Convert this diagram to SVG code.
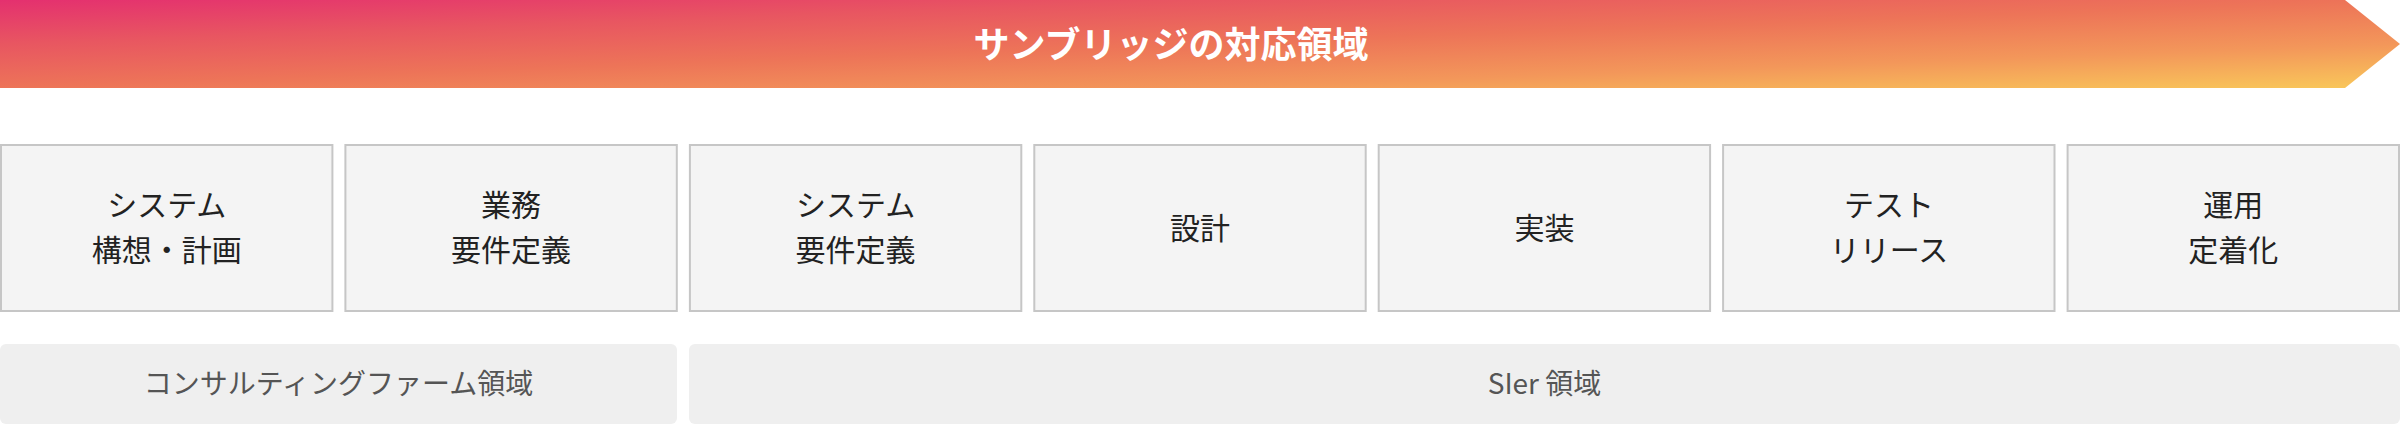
<svg xmlns="http://www.w3.org/2000/svg" width="2400" height="440" viewBox="0 0 2400 440">
<defs>
<linearGradient id="bannerGrad" x1="0" y1="0" x2="1" y2="1">
<stop offset="0" stop-color="#e4306f"/>
<stop offset="0.25" stop-color="#e85661"/>
<stop offset="0.5" stop-color="#ed7458"/>
<stop offset="0.75" stop-color="#f3975a"/>
<stop offset="1" stop-color="#f9c85a"/>
</linearGradient>
<style>
.step rect{fill:#f4f4f4;stroke:#c6c6c6;stroke-width:2}
.step text{font-family:"Noto Sans CJK JP","Noto Sans",sans-serif;font-size:30px;fill:#222;text-anchor:middle}
.area rect{fill:#efefef}
.area text{font-family:"Noto Sans CJK JP","Noto Sans",sans-serif;font-size:28px;fill:#555;text-anchor:middle}
.title{font-family:"Noto Sans CJK JP","Noto Sans",sans-serif;font-size:36px;font-weight:700;fill:#fff;text-anchor:middle}
</style>
</defs>
<g id="banner">
<polygon points="0,0 2345,0 2400,44 2345,88 0,88" fill="url(#bannerGrad)"/>
<text class="title" x="1171" y="58">サンブリッジの対応領域</text>
</g>
<g id="connectors"></g>
<g id="step1" class="step">
<rect x="1" y="145" width="331.4" height="166"/>
<text x="166.7" y="216">システム</text>
<text x="166.7" y="261">構想・計画</text>
</g>
<g id="step2" class="step">
<rect x="345.4" y="145" width="331.4" height="166"/>
<text x="511.1" y="216">業務</text>
<text x="511.1" y="261">要件定義</text>
</g>
<g id="step3" class="step">
<rect x="689.9" y="145" width="331.4" height="166"/>
<text x="855.6" y="216">システム</text>
<text x="855.6" y="261">要件定義</text>
</g>
<g id="step4" class="step">
<rect x="1034.3" y="145" width="331.4" height="166"/>
<text x="1200" y="239">設計</text>
</g>
<g id="step5" class="step">
<rect x="1378.7" y="145" width="331.4" height="166"/>
<text x="1544.4" y="239">実装</text>
</g>
<g id="step6" class="step">
<rect x="1723.1" y="145" width="331.4" height="166"/>
<text x="1888.9" y="216">テスト</text>
<text x="1888.9" y="261">リリース</text>
</g>
<g id="step7" class="step">
<rect x="2067.6" y="145" width="331.4" height="166"/>
<text x="2233.3" y="216">運用</text>
<text x="2233.3" y="261">定着化</text>
</g>
<g id="area-consulting" class="area">
<rect x="0" y="344" width="677" height="80" rx="6" ry="6"/>
<text x="338.5" y="394">コンサルティングファーム領域</text>
</g>
<g id="area-sier" class="area">
<rect x="689" y="344" width="1711" height="80" rx="6" ry="6"/>
<text x="1544.5" y="394">SIer 領域</text>
</g>
</svg>
